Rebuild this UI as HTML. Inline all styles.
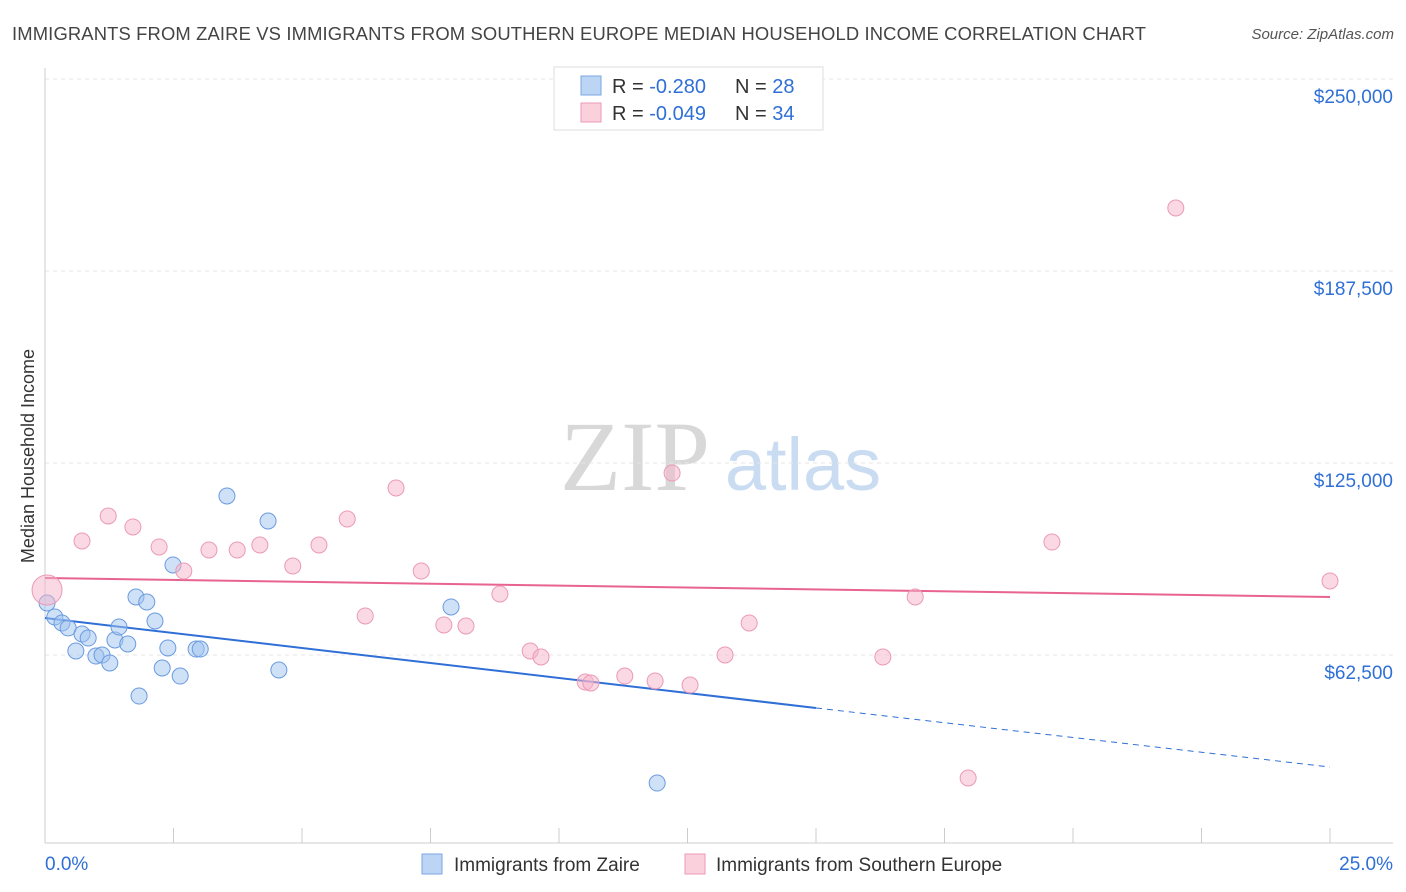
<!DOCTYPE html>
<html><head><meta charset="utf-8">
<style>
body{margin:0;background:#fff;font-family:"Liberation Sans",sans-serif;}
svg{display:block}
</style></head>
<body>
<svg id="chart" width="1406" height="892">
<text x="12" y="40" font-size="18.4" fill="#444" textLength="1134">IMMIGRANTS FROM ZAIRE VS IMMIGRANTS FROM SOUTHERN EUROPE MEDIAN HOUSEHOLD INCOME CORRELATION CHART</text>
<text x="1394" y="39" font-size="15" fill="#555" font-style="italic" text-anchor="end">Source: ZipAtlas.com</text>
<text x="0" y="0" transform="translate(34,456) rotate(-90)" font-size="18" fill="#333" text-anchor="middle">Median Household Income</text>
<g>
<text x="635" y="490" font-size="100" fill="#d8d8d8" font-family="Liberation Serif,serif" text-anchor="middle">ZIP</text>
<text x="803" y="490" font-size="74" fill="#c9dcf2" text-anchor="middle">atlas</text>
</g>
<g id="grid"></g>
<g id="axes"></g>
<g id="lines"></g>
<g id="pts"></g>
<g>
<rect x="554" y="67" width="269" height="63" fill="#fff" stroke="#ddd"/>
<rect x="581" y="76" width="20" height="19" fill="#bcd5f5" stroke="#7aa6e0"/>
<rect x="581" y="103" width="20" height="19" fill="#fbd0dd" stroke="#eb9ab5"/>
<text x="612" y="93" font-size="20" fill="#333">R = <tspan fill="#2f6fd6">-0.280</tspan></text>
<text x="735" y="93" font-size="20" fill="#333">N = <tspan fill="#2f6fd6">28</tspan></text>
<text x="612" y="120" font-size="20" fill="#333">R = <tspan fill="#2f6fd6">-0.049</tspan></text>
<text x="735" y="120" font-size="20" fill="#333">N = <tspan fill="#2f6fd6">34</tspan></text>
</g>
<g>
<rect x="422" y="854" width="20" height="20" fill="#bcd5f5" stroke="#7aa6e0"/>
<text x="454" y="871" font-size="19" fill="#333">Immigrants from Zaire</text>
<rect x="685" y="854" width="20" height="20" fill="#fbd0dd" stroke="#eb9ab5"/>
<text x="716" y="871" font-size="19" fill="#333">Immigrants from Southern Europe</text>
</g>
</svg>
<script>
const yTicks=[62500,125000,187500,250000];
const yTickLabels=["$62,500","$125,000","$187,500","$250,000"];
const xTickLabels=["0.0%","25.0%"];
const zaireX=[0.04,0.19,0.33,0.45,0.60,0.72,0.84,0.99,1.11,1.26,1.36,1.44,1.61,1.77,1.83,1.98,2.14,2.28,2.39,2.49,2.63,2.94,3.02,3.54,4.34,4.55,7.90,11.91];
const zaireY=[79430,74870,72920,71290,63800,69340,68030,62170,62500,59900,67380,71610,66080,81380,49150,79750,73570,58270,64780,91800,55660,64450,64450,114260,106120,57620,78130,20830];
const seX=[0.04,0.72,1.23,1.71,2.22,2.70,3.19,3.74,4.18,4.82,5.33,5.88,6.23,6.83,7.32,7.76,8.19,8.85,9.44,9.65,10.51,10.62,11.28,11.87,12.20,12.55,13.23,13.70,16.30,16.93,17.96,19.59,22.00,25.00];
const seY=[83660,99610,107750,104170,97660,89840,96680,96680,98310,91470,98310,106770,75200,116860,89840,72270,71940,82360,63800,61850,53710,53390,55660,54040,121740,52730,62500,72920,61850,81380,22460,99280,208010,86590];
const zaireTrend=[74540,45250,26040]; // at 0%, 15%, 25%
const seTrend=[87560,81380]; // at 0%, 25%
const NS="http://www.w3.org/2000/svg";
const X=v=>45+v/25*1285;
const Y=v=>847-v/62500*192;
function mk(parent,tag,attrs){const e=document.createElementNS(NS,tag);for(const k in attrs)e.setAttribute(k,attrs[k]);document.getElementById(parent).appendChild(e);return e;}
yTicks.forEach((t,i)=>{
 let l=mk('grid','line',{x1:45,x2:1393,y1:Y(t),y2:Y(t),stroke:'#e6e6e6','stroke-dasharray':'4,4'});
 
 
 let tx=mk('axes','text',{x:1393,y:Y(t)+24,'font-size':19,fill:'#2f6fd6','text-anchor':'end'});
 tx.textContent=yTickLabels[i];
 
 
});
let ax=mk('axes','line',{x1:45,x2:1393,y1:843,y2:843,stroke:'#ccc'});


let ay=mk('axes','line',{x1:45,x2:45,y1:68,y2:843,stroke:'#ccc'});


for(let i=1;i<=10;i++){let t=mk('axes','line',{x1:X(i*2.5),x2:X(i*2.5),y1:828,y2:843,stroke:'#ccc'});
 
 }
[[0,'start',45],[25,'end',1393]].forEach((d,i)=>{let t=mk('axes','text',{x:d[2],y:870,'font-size':19,fill:'#2f6fd6','text-anchor':d[1]});t.textContent=xTickLabels[i];
 
 });
let b1=mk('lines','line',{x1:X(0),y1:Y(zaireTrend[0]),x2:X(15),y2:Y(zaireTrend[1]),stroke:'#2f6fd6','stroke-width':2});


let b2=mk('lines','line',{x1:X(15),y1:Y(zaireTrend[1]),x2:X(25),y2:Y(zaireTrend[2]),stroke:'#2f6fd6','stroke-width':1,'stroke-dasharray':'6,5'});


let p1=mk('lines','line',{x1:X(0),y1:Y(seTrend[0]),x2:X(25),y2:Y(seTrend[1]),stroke:'#e8638f','stroke-width':2});


zaireX.forEach((x,i)=>{let c=mk('pts','circle',{cx:X(x),cy:Y(zaireY[i]),r:8,fill:'rgba(160,196,240,0.5)',stroke:'#6b9be0','stroke-width':1});
 
 });
seX.forEach((x,i)=>{let c=mk('pts','circle',{cx:X(x),cy:Y(seY[i]),r:i===0?15:8,fill:'rgba(246,180,202,0.5)',stroke:'#eb9ab5','stroke-width':1});
 
 });
</script>
</body></html>
